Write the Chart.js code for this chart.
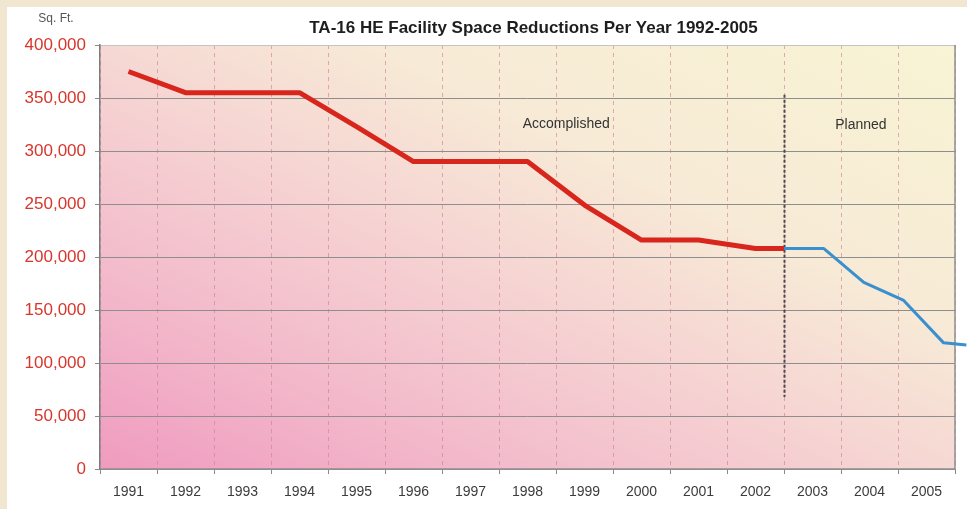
<!DOCTYPE html>
<html><head><meta charset="utf-8">
<script src="https://cdn.jsdelivr.net/npm/chart.js@4.4.1/dist/chart.umd.min.js"></script>
<style>
html,body{margin:0;padding:0;background:#f1e6d0;width:967px;height:509px;overflow:hidden;}
#card{position:absolute;left:7px;top:7px;width:960px;height:502px;background:#fff;}
canvas{display:block;}
</style></head><body>
<div id="card"><canvas id="c" width="960" height="502"></canvas></div>
<script>
// ---- data ----
const years = ['1991','1992','1993','1994','1995','1996','1997','1998','1999','2000','2001','2002','2003','2004','2005'];
const accomplishedX = [0, 1, 2, 3, 4, 5, 6, 7, 8, 9, 10, 11, 11.5];
const accomplishedY = [375000, 355000, 355000, 355000, 323000, 290000, 290000, 290000, 249000, 216000, 216000, 208000, 208000];
const plannedX = [11.5, 12.2, 12.9, 13.6, 14.3, 14.7];
const plannedY = [208000, 208000, 176000, 159000, 119000, 117000];
const dividerX = 11.5;
const dividerRange = [353000, 68000];
const noteAccomplished = {text: 'Accomplished', x: 7.68, y: 325500};
const notePlanned = {text: 'Planned', x: 12.85, y: 324000};
const chartTitle = 'TA-16 HE Facility Space Reductions Per Year 1992-2005';
const unitLabel = 'Sq. Ft.';
const yMax = 400000, yStep = 50000;

const FONT = "Arial, 'Liberation Sans', sans-serif";

function fmt(v){ return String(v).replace(/\B(?=(\d{3})+(?!\d))/g, ','); }

const decor = {
  id: 'decor',
  beforeDraw(chart) {
    const {ctx, chartArea: a} = chart;
    const w = a.right - a.left, h = a.bottom - a.top;
    const g = ctx.createLinearGradient(a.left, a.bottom, a.left + 0.394 * w, a.bottom - 1.606 * h);
    g.addColorStop(0, '#f09bbf');
    g.addColorStop(0.25, '#f3bccc');
    g.addColorStop(0.48, '#f6d6d3');
    g.addColorStop(0.66, '#f7eAd6');
    g.addColorStop(1, '#f8f4d4');
    ctx.save();
    ctx.fillStyle = g;
    ctx.fillRect(a.left, a.top, w, h);
    ctx.restore();
  },
  beforeDatasetsDraw(chart) {
    const {ctx, chartArea: a, scales} = chart;
    ctx.save();
    // plot frame (bottom and right)
    ctx.strokeStyle = '#8f8f8f';
    ctx.lineWidth = 1.5;
    ctx.beginPath();
    ctx.moveTo(a.left, a.bottom);
    ctx.lineTo(a.right, a.bottom);
    ctx.moveTo(a.right, a.top);
    ctx.lineTo(a.right, a.bottom);
    ctx.stroke();
    // divider
    const xv = scales.xv, y = scales.y;
    const dx = Math.round(xv.getPixelForValue(dividerX)) + 0.5;
    ctx.strokeStyle = '#4d4852';
    ctx.lineWidth = 2;
    ctx.setLineDash([3, 2]);
    ctx.beginPath();
    ctx.moveTo(dx, y.getPixelForValue(dividerRange[0]));
    ctx.lineTo(dx, y.getPixelForValue(dividerRange[1]));
    ctx.stroke();
    ctx.setLineDash([]);
    // notes
    ctx.fillStyle = '#333';
    ctx.font = '14px ' + FONT;
    ctx.textAlign = 'center';
    ctx.textBaseline = 'middle';
    for (const n of [noteAccomplished, notePlanned]) {
      ctx.fillText(n.text, xv.getPixelForValue(n.x), y.getPixelForValue(n.y));
    }
    ctx.restore();
  },
  afterDraw(chart) {
    const {ctx, chartArea: a} = chart;
    ctx.save();
    ctx.textBaseline = 'middle';
    ctx.textAlign = 'center';
    ctx.fillStyle = '#1e1e1e';
    ctx.font = 'bold 17px ' + FONT;
    ctx.fillText(chartTitle, (a.left + a.right) / 2 + 6, 21);
    ctx.fillStyle = '#555';
    ctx.font = '12px ' + FONT;
    ctx.fillText(unitLabel, 49, 12);
    ctx.restore();
  }
};

new Chart(document.getElementById('c'), {
  type: 'line',
  data: {
    labels: years,
    datasets: [
      {
        label: 'Accomplished',
        xAxisID: 'xv',
        data: accomplishedX.map((x, i) => ({x, y: accomplishedY[i]})),
        borderColor: '#d8261c',
        borderWidth: 5,
        pointRadius: 0,
        borderJoinStyle: 'round',
        tension: 0,
        fill: false
      },
      {
        label: 'Planned',
        xAxisID: 'xv',
        data: plannedX.map((x, i) => ({x, y: plannedY[i]})),
        borderColor: '#3a8fcf',
        borderWidth: 3,
        pointRadius: 0,
        borderJoinStyle: 'round',
        tension: 0,
        fill: false,
        clip: false
      }
    ]
  },
  options: {
    responsive: false,
    animation: false,
    devicePixelRatio: 1,
    layout: {padding: {top: 38, right: 12, left: 0, bottom: 0}},
    plugins: {legend: {display: false}, tooltip: {enabled: false}, title: {display: false}},
    scales: {
      x: {
        type: 'category',
        offset: true,
        grid: {
          offset: true,
          color: 'rgba(200,125,150,0.6)',
          lineWidth: 1,
          tickLength: 5,
          tickColor: '#8a8a8a',
          tickBorderDash: [],
          tickWidth: 1
        },
        border: {display: false, dash: [4, 4]},
        ticks: {color: '#3c3c3c', font: {family: FONT, size: 14}, padding: 10, maxRotation: 0, autoSkip: false},
        afterFit(s) { s.height = 40; }
      },
      xv: {
        type: 'linear',
        display: false,
        min: -0.5,
        max: 14.5
      },
      y: {
        min: 0,
        max: yMax,
        ticks: {stepSize: yStep, color: '#d6362b', font: {family: FONT, size: 17}, padding: 9, callback: v => fmt(v)},
        grid: {
          color: ctx => (ctx.tick && ctx.tick.value === yMax) ? '#c4c4c4' : '#8e8e8e',
          lineWidth: 1,
          tickLength: 5,
          tickColor: '#8a8a8a'
        },
        border: {display: true, color: '#7d7d7d', width: 1.5},
        afterFit(s) { s.width = 93; }
      }
    }
  },
  plugins: [decor]
});
</script>
</body></html>
